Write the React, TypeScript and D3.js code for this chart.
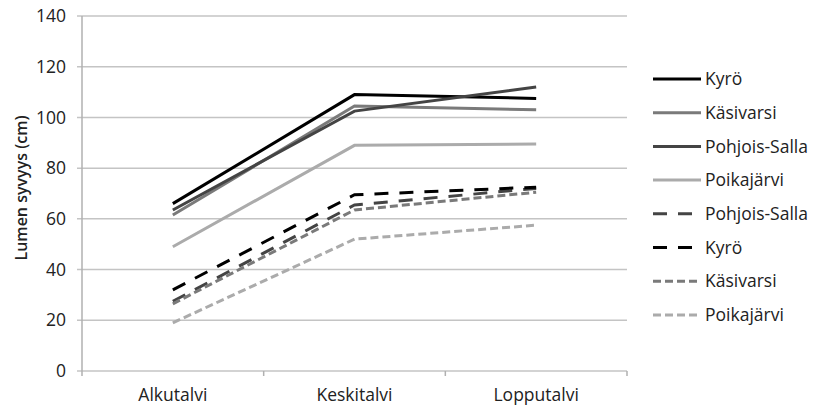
import React from "react";
import * as d3 from "d3";

const categories = ["Alkutalvi", "Keskitalvi", "Lopputalvi"];
const yTicks = [0, 20, 40, 60, 80, 100, 120, 140];

const seriesNames = ["Kyrö", "Käsivarsi", "Pohjois-Salla", "Poikajärvi", "Pohjois-Salla", "Kyrö", "Käsivarsi", "Poikajärvi"];
const kyroSolid = [66, 109, 107.5];
const kasivarsiSolid = [61.5, 104.5, 103];
const pohjoisSallaSolid = [63.5, 102.5, 112];
const poikajarviSolid = [49, 89, 89.5];
const pohjoisSallaDashed = [27.5, 65.5, 72];
const kyroDashed = [32, 69.5, 72.5];
const kasivarsiDashed = [26.5, 63.5, 70.5];
const poikajarviDashed = [19, 52, 57.5];

const seriesValues = [kyroSolid, kasivarsiSolid, pohjoisSallaSolid, poikajarviSolid, pohjoisSallaDashed, kyroDashed, kasivarsiDashed, poikajarviDashed];
const styles = [
  { color: "#000000", dash: "" },
  { color: "#7a7a7a", dash: "" },
  { color: "#444444", dash: "" },
  { color: "#ababab", dash: "" },
  { color: "#444444", dash: "14,11" },
  { color: "#000000", dash: "14,11" },
  { color: "#7a7a7a", dash: "8,4" },
  { color: "#ababab", dash: "8,4" },
];

const W = 820, H = 413;
const left = 82, right = 627, top = 16, bottom = 371;
const font = "'Open Sans', sans-serif";
const fs = 17.5;

export default function App() {
  const x = d3.scaleBand().domain(categories).range([left, right]);
  const y = d3.scaleLinear().domain([0, 140]).range([bottom, top]);
  const line = d3.line<number>().x((_, i) => (x(categories[i]) as number) + x.bandwidth() / 2).y((d) => y(d));
  const xTicks = [left, ...categories.map((c) => (x(c) as number) + x.bandwidth())];
  return (
    <svg width={W} height={H} style={{ position: "absolute", left: 0, top: 0 }}>
      <rect width={W} height={H} fill="#fff" />
      {yTicks.map((t) => (
        <g key={t}>
          <line x1={left - 5} x2={right} y1={y(t)} y2={y(t)} stroke="#c4c4c4" strokeWidth={1.5} />
          <text x={66} y={y(t)} dy="0.35em" textAnchor="end" fontFamily={font} fontSize={fs} fill="#222">{t}</text>
        </g>
      ))}
      <line x1={left} x2={left} y1={top} y2={bottom} stroke="#b0b0b0" strokeWidth={1.5} />
      {xTicks.map((t, i) => (
        <line key={i} x1={t} x2={t} y1={bottom} y2={bottom + 5} stroke="#b0b0b0" strokeWidth={1.5} />
      ))}
      {categories.map((c) => (
        <text key={c} x={(x(c) as number) + x.bandwidth() / 2} y={395} dy="0.35em" textAnchor="middle" fontFamily={font} fontSize={fs} fill="#222">{c}</text>
      ))}
      <text transform={`translate(21,${188}) rotate(-90)`} dy="0.35em" textAnchor="middle" fontFamily={font} fontSize={16} fontWeight={600} fill="#222">Lumen syvyys (cm)</text>
      {seriesValues.map((vals, i) => (
        <path key={i} d={line(vals) || ""} fill="none" stroke={styles[i].color} strokeWidth={3} strokeDasharray={styles[i].dash} />
      ))}
      {seriesNames.map((n, i) => {
        const ly = 79 + i * 33.7;
        return (
          <g key={i}>
            <line x1={653} x2={701} y1={ly} y2={ly} stroke={styles[i].color} strokeWidth={3} strokeDasharray={styles[i].dash} />
            <text x={705} y={ly} dy="0.35em" fontFamily={font} fontSize={fs} fill="#222">{n}</text>
          </g>
        );
      })}
    </svg>
  );
}
